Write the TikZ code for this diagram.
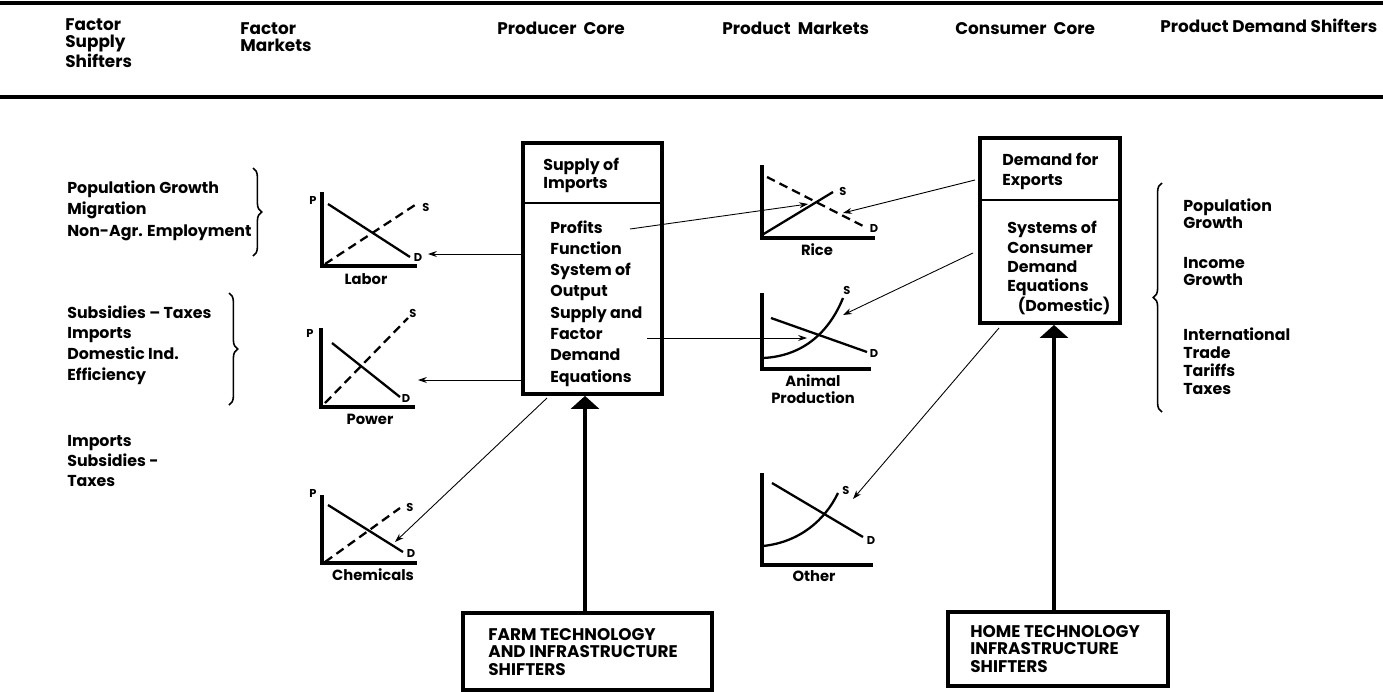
\documentclass[tikz,border=0pt]{standalone}
\usepackage{fontspec}
\setmainfont{Poppins}
\usetikzlibrary{arrows.meta,decorations.pathreplacing}

\tikzset{
  hdr/.style={anchor=base west, inner sep=0pt, align=left, font=\fontsize{9.6}{9.4}\selectfont\bfseries},
  txt/.style={anchor=base west, inner sep=0pt, align=left, font=\fontsize{9}{12}\selectfont\bfseries},
  caps/.style={anchor=base west, inner sep=0pt, align=left, font=\fontsize{9.6}{9.9}\selectfont\bfseries},
  lbl/.style={inner sep=0pt, align=center, font=\fontsize{8.4}{9.5}\selectfont\bfseries},
  tag/.style={inner sep=0pt, font=\fontsize{6.5}{7}\selectfont\bfseries},
  axis/.style={line width=1.8pt},
  curve/.style={line width=1.3pt},
  dcurve/.style={line width=1.3pt, dash pattern=on 5pt off 3pt},
  corebox/.style={draw, line width=2.2pt},
  shiftbox/.style={draw, line width=2pt},
  link/.style={->, >={Stealth[length=5pt,width=3.4pt]}, line width=0.5pt},
  push/.style={-{Triangle[width=0.56cm,length=0.26cm]}, line width=2.6pt},
  brace/.style={decorate, decoration={brace, amplitude=5pt}, line width=0.9pt},
}

\begin{document}
\begin{tikzpicture}[x=0.02cm, y=-0.02cm]
\useasboundingbox (0,0) rectangle (1383,691);

% headings
\draw[line width=1.8pt] (0,3) -- (1383,3);
\draw[line width=1.8pt] (0,97) -- (1383,97);
\node[hdr] (h1) at (65,67) {Factor\\Supply\\Shifters};
\node[hdr] (h2) at (240,51) {Factor\\Markets};
\node[hdr] (h3) at (497,34) {Producer~~Core};
\node[hdr] (h4) at (722,34) {Product~~Markets};
\node[hdr] (h5) at (955,34) {Consumer~~Core};
\node[hdr] (h6) at (1160,32) {Product Demand Shifters};

% factor supply shifters
\node[txt] (fs1) at (67,236) {Population Growth\\Migration\\Non-Agr. Employment};
\node[txt, font=\fontsize{9}{11.7}\selectfont\bfseries] (fs2) at (67,380) {Subsidies -- Taxes\\Imports\\Domestic Ind.\\Efficiency};
\node[txt, font=\fontsize{9}{11.3}\selectfont\bfseries] (fs3) at (67,486) {Imports\\Subsidies -\\Taxes};
\draw[brace] (253,168) -- (253,256);
\draw[brace] (229,293) -- (229,405);

% factor markets
\draw[axis] (322,192) -- (322,266) -- (417,266);
\draw[curve] (328,204) -- (410,257);
\draw[dcurve] (325,264) -- (415,205);
\node[tag] at (313,200) {P}; \node[tag] at (426,207) {S}; \node[tag] at (418,257) {D};
\node[lbl] (labor) at (366,279) {Labor};
\coordinate (laborD) at (428,254);

\draw[axis] (321,328) -- (321,407) -- (415,407);
\draw[curve] (332,343) -- (400,397);
\draw[dcurve] (325,403) -- (408,318);
\node[tag] at (310,333) {P}; \node[tag] at (413,313) {S}; \node[tag] at (406,398) {D};
\node[lbl] (power) at (370,419) {Power};
\coordinate (powerD) at (418,380);

\draw[axis] (322,495) -- (322,563) -- (417,563);
\draw[curve] (328,505) -- (403,552);
\draw[dcurve] (325,562) -- (400,508);
\node[tag] at (313,493) {P}; \node[tag] at (410,507) {S}; \node[tag] at (411,553) {D};
\node[lbl] (chem) at (373,575) {Chemicals};
\coordinate (chemD) at (395,542);

% producer core
\node[corebox, minimum width=2.78cm, minimum height=5.02cm] (prod) at (592.5,268.5) {};
\draw[line width=1.4pt] (prod.west |- 0,203) -- (prod.east |- 0,203);
\node[txt, font=\fontsize{9}{10.2}\selectfont\bfseries] (imp) at (543,188) {Supply of\\Imports};
\node[txt, font=\fontsize{9}{12.1}\selectfont\bfseries] (pf) at (550,382) {Profits\\Function\\System of\\Output\\Supply and\\Factor\\Demand\\Equations};
\coordinate (pfOut) at (630,229);
\coordinate (pfAnimal) at (647,338);
\coordinate (pfChem) at (547,398);

% product markets
\draw[axis] (762,165) -- (762,238) -- (875,238);
\draw[curve] (762,235) -- (833,192);
\draw[dcurve] (767,177) -- (865,227);
\node[tag] at (843,191) {S}; \node[tag] at (874,228) {D};
\node[lbl] (rice) at (817,250) {Rice};
\coordinate (riceS) at (808,204);
\coordinate (riceD) at (843,213);

\draw[axis] (762,293) -- (762,369) -- (871,369);
\draw[curve] (771,318) -- (867,352);
\draw[curve] (763,358) .. controls (805,356) and (830,330) .. (843,298);
\node[tag] at (847,290) {S}; \node[tag] at (874,353) {D};
\node[lbl] (animal) at (813,389) {Animal\\Production};
\coordinate (animalX) at (807,338);
\coordinate (animalS) at (843,315);

\draw[axis] (762,473) -- (762,565) -- (873,565);
\draw[curve] (772,483) -- (863,537);
\draw[curve] (763,546) .. controls (800,542) and (825,520) .. (838,493);
\node[tag] at (846,490) {S}; \node[tag] at (871,540) {D};
\node[lbl] (other) at (814,576) {Other};
\coordinate (otherS) at (853,499);

% consumer core
\node[corebox, minimum width=2.8cm, minimum height=3.7cm] (cons) at (1050,230.5) {};
\draw[line width=1.2pt] (cons.west |- 0,200) -- (cons.east |- 0,200);
\node[txt, font=\fontsize{9}{11.3}\selectfont\bfseries] (exp) at (1002,185) {Demand for\\Exports};
\node[txt, font=\fontsize{9}{11}\selectfont\bfseries] (sys) at (1007,311) {Systems of\\Consumer\\Demand\\Equations\\\hspace{6pt}(Domestic)};
\coordinate (consRice) at (975,180);
\coordinate (consAnimal) at (973,253);
\coordinate (consOther) at (999,328);

% product demand shifters
\draw[brace] (1162,412) -- (1162,183);
\node[txt, font=\fontsize{9}{9.6}\selectfont\bfseries] (pd1) at (1183,228) {Population\\Growth};
\node[txt, font=\fontsize{9}{9.6}\selectfont\bfseries] (pd2) at (1183,285) {Income\\Growth};
\node[txt, font=\fontsize{9}{10.2}\selectfont\bfseries] (pd3) at (1183,394) {International\\Trade\\Tariffs\\Taxes};

% technology shifters
\node[shiftbox, minimum width=4.98cm, minimum height=1.54cm] (farm) at (587.5,651.5) {};
\node[caps] (farmtx) at (488,675) {FARM TECHNOLOGY\\AND INFRASTRUCTURE\\SHIFTERS};
\node[shiftbox, minimum width=4.4cm, minimum height=1.48cm] (home) at (1058,649) {};
\node[caps] (hometx) at (970,672) {HOME TECHNOLOGY\\INFRASTRUCTURE\\SHIFTERS};

% links
\draw[link] (prod.west |- laborD) -- (laborD);
\draw[link] (prod.west |- powerD) -- (powerD);
\draw[link] (pfChem) -- (chemD);
\draw[link] (pfOut) -- (riceS);
\draw[link] (pfAnimal) -- (animalX);
\draw[link] (consRice) -- (riceD);
\draw[link] (consAnimal) -- (animalS);
\draw[link] (consOther) -- (otherS);
\draw[push] (farm.north -| 585,0) -- (prod.south -| 585,0);
\draw[push] (home.north -| 1054,0) -- (cons.south -| 1054,0);
\end{tikzpicture}
\end{document}
